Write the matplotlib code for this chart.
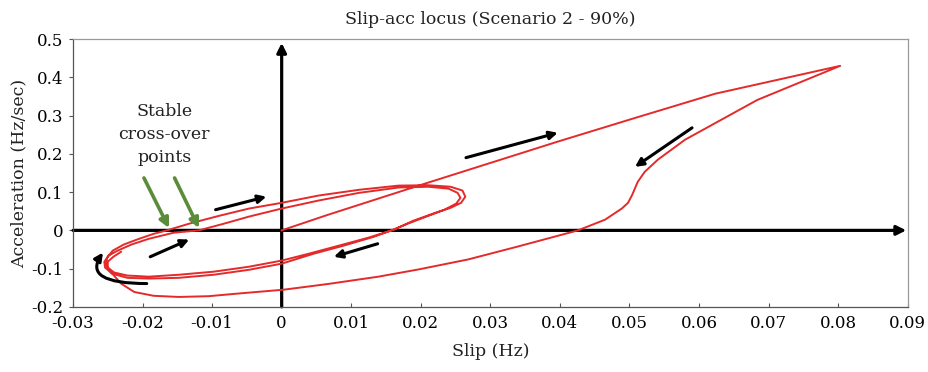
import matplotlib
matplotlib.use("Agg")
import matplotlib.pyplot as plt
from matplotlib.patches import FancyArrowPatch
from matplotlib.path import Path

plt.rcParams['font.family'] = ['DejaVu Serif']

title = "Slip-acc locus (Scenario 2 - 90%)"
xlabel = "Slip (Hz)"
ylabel = "Acceleration (Hz/sec)"
xticks = [-0.03, -0.02, -0.01, 0, 0.01, 0.02, 0.03, 0.04, 0.05, 0.06, 0.07, 0.08, 0.09]
xtick_labels = ["-0.03", "-0.02", "-0.01", "0", "0.01", "0.02", "0.03", "0.04",
                "0.05", "0.06", "0.07", "0.08", "0.09"]
yticks = [-0.2, -0.1, 0, 0.1, 0.2, 0.3, 0.4, 0.5]
ytick_labels = ["-0.2", "-0.1", "0", "0.1", "0.2", "0.3", "0.4", "0.5"]

# trajectory (slip, acceleration), in time order
slip = [
    0.0, 0.0067, 0.0197, 0.0397, 0.0512, 0.0623, 0.0803,
    0.0684, 0.0580, 0.0541, 0.0522, 0.0512, 0.0504, 0.0498, 0.0489, 0.0465, 0.0426,
    0.0340, 0.0268, 0.0197, 0.0139, 0.0067, 0.0003, -0.0062, -0.0105, -0.0148,
    -0.0184, -0.0212, -0.0231, -0.0245, -0.0253, -0.0251, -0.0243, -0.0227, -0.0205,
    -0.0184, -0.0165, -0.0133, -0.0090, -0.0047, 0.0, 0.0053, 0.0111, 0.0168, 0.0211,
    0.0243, 0.0260, 0.0264, 0.0258, 0.0243, 0.0218, 0.0189, 0.0164, 0.0132, 0.0089,
    0.0046, 0.0, -0.0047, -0.0098, -0.0148, -0.0191, -0.0222, -0.0244, -0.0254,
    -0.0255, -0.0249, -0.0236, -0.0216, -0.0191, -0.0155, -0.0119,
    -0.0083, -0.0047, 0.0, 0.0053, 0.0111, 0.0168, 0.0211, 0.0240, 0.0253, 0.0257,
    0.0251, 0.0234, 0.0208, 0.0182, 0.0158, 0.0125, 0.0082, 0.0039, 0.0, -0.0047,
    -0.0098, -0.0148, -0.0191, -0.0222, -0.0241, -0.0250, -0.0250, -0.0242, -0.0231,
]
accel = [
    0.0, 0.041, 0.117, 0.232, 0.296, 0.357, 0.430,
    0.341, 0.237, 0.185, 0.153, 0.127, 0.093, 0.072, 0.057, 0.028, 0.0,
    -0.042, -0.076, -0.102, -0.121, -0.140, -0.155, -0.165, -0.172, -0.174,
    -0.171, -0.161, -0.139, -0.110, -0.090, -0.072, -0.053, -0.037, -0.022,
    -0.009, 0.0, 0.0175, 0.038, 0.057, 0.072, 0.091, 0.106, 0.117, 0.118,
    0.114, 0.104, 0.088, 0.072, 0.059, 0.044, 0.025, 0.004, -0.017, -0.040,
    -0.061, -0.087, -0.103, -0.116, -0.124, -0.126, -0.124, -0.113, -0.097,
    -0.082, -0.066, -0.053, -0.037, -0.022, -0.006, 0.0,
    0.0175, 0.036, 0.057, 0.078, 0.098, 0.112, 0.114, 0.109, 0.098, 0.085,
    0.070, 0.054, 0.036, 0.018, 0.0, -0.019, -0.040, -0.061, -0.079, -0.095,
    -0.108, -0.116, -0.121, -0.118, -0.110, -0.097, -0.082, -0.069, -0.056,
]

fig = plt.figure(figsize=(9.29, 3.72), dpi=100)
ax = fig.add_axes([0.0786, 0.175, 0.8984, 0.72])
ax.set_xlim(-0.03, 0.09)
ax.set_ylim(-0.2, 0.5)

for s in ['top', 'right']:
    ax.spines[s].set_color('#9a9a9a')
    ax.spines[s].set_linewidth(0.9)
for s in ['left', 'bottom']:
    ax.spines[s].set_color('#555555')
    ax.spines[s].set_linewidth(0.9)

ax.set_xticks(xticks)
ax.set_xticklabels(xtick_labels)
ax.set_yticks(yticks)
ax.set_yticklabels(ytick_labels)
ax.tick_params(axis='x', direction='in', length=3, labelsize=12, pad=6, color='#555555')
ax.tick_params(axis='y', direction='out', length=3, labelsize=12, pad=4, color='#555555')

# main axes arrows
ax.annotate('', xy=(0.0898, 0), xytext=(-0.03, 0),
            arrowprops=dict(arrowstyle='-|>', lw=2.3, color='black', mutation_scale=14,
                            shrinkA=0, shrinkB=0), zorder=2)
ax.annotate('', xy=(0, 0.49), xytext=(0, -0.2),
            arrowprops=dict(arrowstyle='-|>', lw=2.3, color='black', mutation_scale=14,
                            shrinkA=0, shrinkB=0), zorder=2)

ax.plot(slip, accel, color='#e42a2a', lw=1.4, zorder=3, solid_joinstyle='round')

# direction arrows
arrow_kw = dict(arrowstyle='-|>', lw=2.2, color='black', mutation_scale=12,
                shrinkA=0, shrinkB=0)
for (x0, y0, x1, y1) in [
    (0.0265, 0.19, 0.0397, 0.255),
    (0.059, 0.268, 0.0508, 0.166),
    (-0.0095, 0.054, -0.0022, 0.088),
    (0.0138, -0.035, 0.0075, -0.069),
    (-0.0189, -0.069, -0.0133, -0.024),
]:
    ax.annotate('', xy=(x1, y1), xytext=(x0, y0), arrowprops=arrow_kw, zorder=4)

# curved arrow at the lower-left turn
curve_path = Path([(-0.0194, -0.139), (-0.0287, -0.139), (-0.0257, -0.058)],
                  [Path.MOVETO, Path.CURVE3, Path.CURVE3])
ax.add_patch(FancyArrowPatch(path=curve_path, arrowstyle='-|>', lw=2.2, color='black',
                             mutation_scale=12, transform=ax.transData, zorder=4))

# green arrows to the cross-over points
green_kw = dict(arrowstyle='-|>', lw=2.6, color='#5b8c3a', mutation_scale=14,
                shrinkA=0, shrinkB=0)
ax.annotate('', xy=(-0.0162, 0.006), xytext=(-0.0198, 0.137), arrowprops=green_kw, zorder=5)
ax.annotate('', xy=(-0.0119, 0.006), xytext=(-0.0154, 0.137), arrowprops=green_kw, zorder=5)

ax.text(-0.0169, 0.25, "Stable\ncross-over\npoints", ha='center', va='center',
        fontsize=12.5, linespacing=1.45, color='#222222')

ax.set_title(title, fontsize=12.5, pad=11, color='#222222')
ax.set_xlabel(xlabel, fontsize=12.5, labelpad=8, color='#222222')
ax.set_ylabel(ylabel, fontsize=12.5, labelpad=3, color='#222222')

fig.savefig('out.png', dpi=100)
